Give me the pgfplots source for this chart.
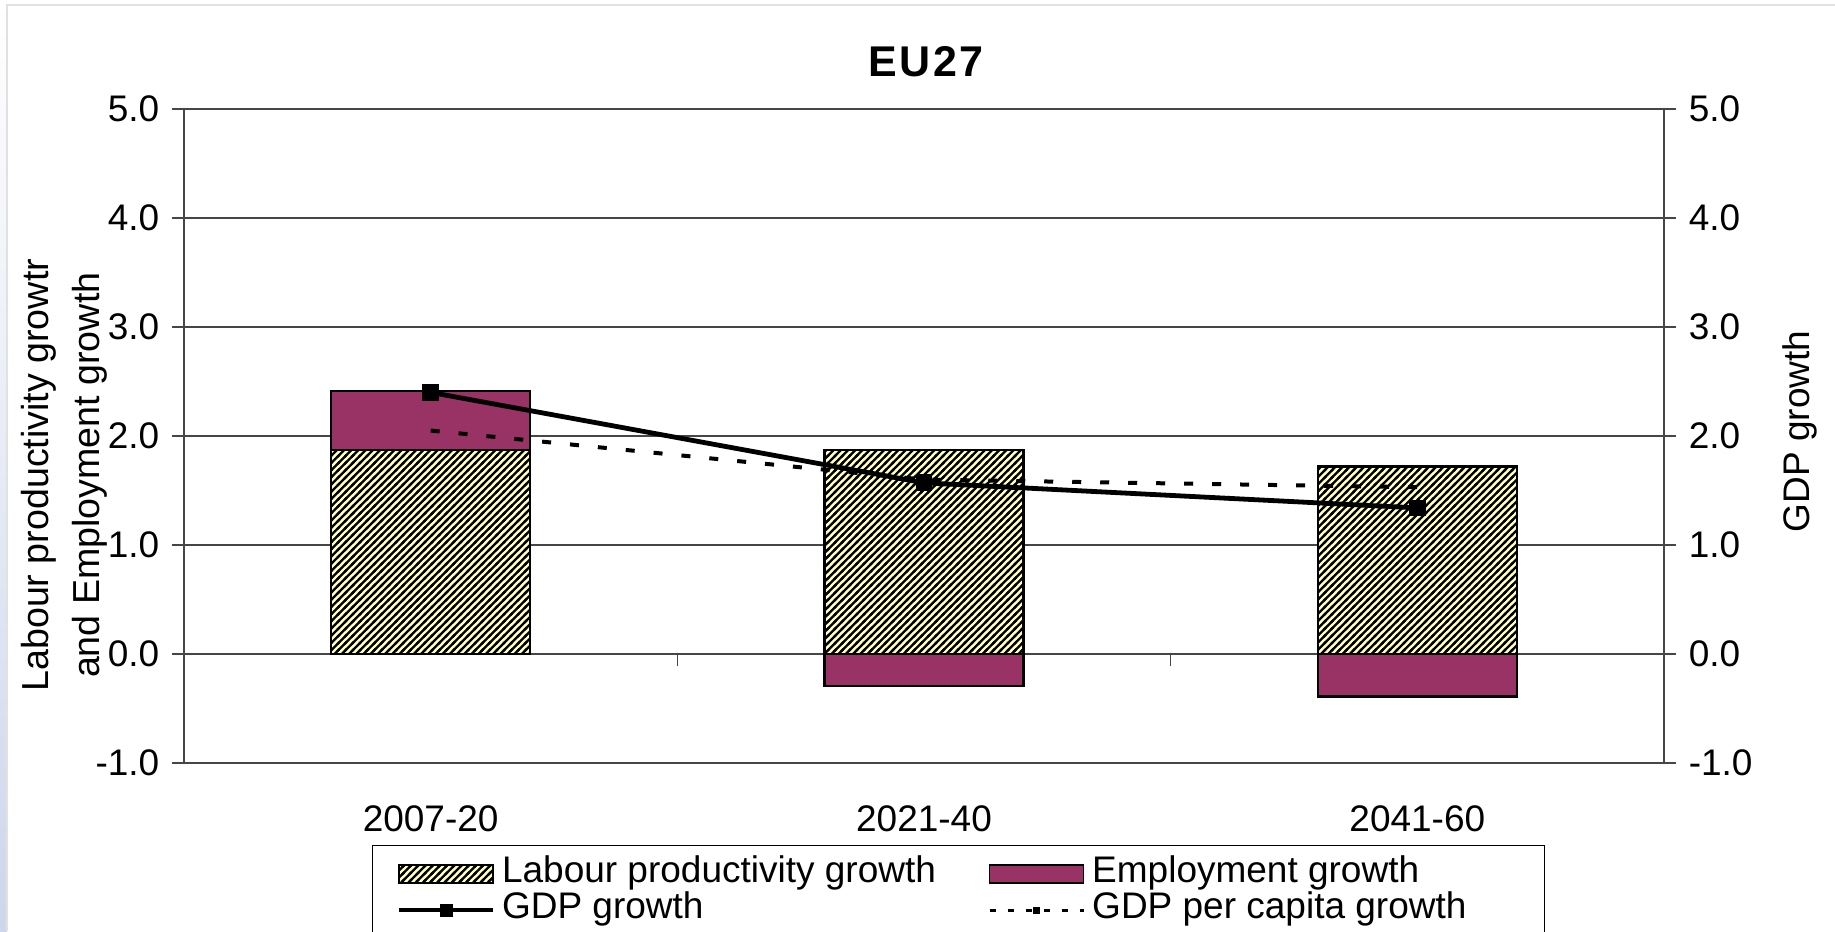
\documentclass[border=0pt]{standalone}
\usepackage{fontspec}
\setmainfont{Liberation Sans}
\usepackage{pgfplots}
\usepackage{pgfplotstable}
\pgfplotsset{compat=1.18}
\usetikzlibrary{patterns}
\definecolor{plum}{RGB}{153,51,102}
\definecolor{cream}{RGB}{255,255,192}
\definecolor{gridc}{RGB}{70,70,70}
\definecolor{stripblue}{RGB}{205,215,235}
\definecolor{framegray}{RGB}{225,225,225}
\pgfdeclarepatternformonly{hatchlines}{\pgfqpoint{-1pt}{-1pt}}{\pgfqpoint{4.6pt}{4.6pt}}{\pgfqpoint{3.6pt}{3.6pt}}{%
  \pgfsetlinewidth{1.15pt}%
  \pgfpathmoveto{\pgfqpoint{-0.6pt}{-0.6pt}}%
  \pgfpathlineto{\pgfqpoint{4.2pt}{4.2pt}}%
  \pgfusepath{stroke}%
}

% x: 0 = 2007-20, 1 = 2021-40, 2 = 2041-60
% emptop: top (or bottom) of the employment segment
\pgfplotstableread{
x lab emp emptop
0 1.87 0.54 2.41
1 1.87 -0.29 -0.29
2 1.72 -0.39 -0.39
}\bardata
\pgfplotstableread{
x gdp gdppc
0 2.40 2.05
1 1.57 1.60
2 1.34 1.53
}\linedata

\begin{document}
\fontsize{18.5}{22}\selectfont
\begin{tikzpicture}[font=\fontsize{18.5}{22}\selectfont]
\useasboundingbox (0,0) rectangle (917.5pt,465.5pt);
\shade[top color=white, bottom color=stripblue] (0,0) rectangle (3.5pt,465.5pt);
\draw[framegray, line width=1pt] (3.5pt,0) -- (3.5pt,463pt) -- (917.5pt,463pt);
\node[font=\bfseries\fontsize{21.5}{25}\selectfont\addfontfeatures{LetterSpace=6}] at (463pt,434.5pt) {EU27};

\begin{axis}[
  at={(92pt,84pt)}, anchor=south west,
  scale only axis, width=740pt, height=327pt,
  xmin=-0.5, xmax=2.5, ymin=-1, ymax=5,
  axis x line*=bottom, axis y line*=left,
  axis line style={gridc, line width=0.8pt},
  xtick={0,1,2}, xticklabels={2007-20,2021-40,2041-60},
  x tick style={draw=none},
  xticklabel style={yshift=-9pt},
  ytick={-1,0,1,2,3,4,5}, yticklabels={-1.0,0.0,1.0,2.0,3.0,4.0,5.0},
  y tick style={gridc, line width=0.8pt},
  tick align=outside, major tick length=6pt,
  ymajorgrids, grid style={gridc, line width=0.8pt},
  every axis y label/.style={at={(axis description cs:0,0.44)}, xshift=-81.5pt, rotate=90, anchor=north, inner sep=0pt, align=center, font=\fontsize{18.8}{25.5}\selectfont},
  ylabel={Labour productivity growtr\\and Employment growth},
  legend columns=2,
  legend cell align=left,
  legend style={
    at={(axis description cs:0.127,-0.1254)}, anchor=north west,
    draw=black, line width=0.7pt, fill=white,
    inner xsep=12pt, inner ysep=5.5pt,
    row sep=0.5pt,
    nodes={inner sep=1pt, text height=12pt, text depth=3.5pt},
    /tikz/every odd column/.append style={column sep=2.5pt},
    /tikz/every even column/.append style={column sep=25pt},
  },
]
\addplot[ybar, bar width=99.5pt, bar shift=0pt, fill=plum, draw=black, line width=1.1pt, forget plot]
  table[x=x, y=emptop]{\bardata};
\addplot[ybar, bar width=99.5pt, bar shift=0pt, draw=none, fill=cream, forget plot]
  table[x=x, y=lab]{\bardata};
\addplot[ybar, bar width=99.5pt, bar shift=0pt, pattern=hatchlines, pattern color=black,
  draw=black, line width=1.1pt, forget plot]
  table[x=x, y=lab]{\bardata};
\draw[gridc, line width=0.8pt] (axis cs:0.5,0) -- ([yshift=-6pt]axis cs:0.5,0);
\draw[gridc, line width=0.8pt] (axis cs:1.5,0) -- ([yshift=-6pt]axis cs:1.5,0);

\addlegendimage{legend image code/.code={
  \fill[cream] (0pt,-4.5pt) rectangle (47pt,4.5pt);
  \fill[pattern=hatchlines, pattern color=black] (0pt,-4.5pt) rectangle (47pt,4.5pt);
  \draw[black, line width=0.8pt] (0pt,-4.5pt) rectangle (47pt,4.5pt);}}
\addlegendentry{Labour productivity growth}
\addlegendimage{legend image code/.code={
  \draw[fill=plum, draw=black, line width=0.8pt] (0pt,-4.5pt) rectangle (47pt,4.5pt);}}
\addlegendentry{Employment growth}
\addlegendimage{legend image code/.code={
  \draw[black, line width=2.2pt] (0pt,0pt) -- (47pt,0pt);
  \fill[black] (21pt,-2.8pt) rectangle (26.6pt,2.8pt);}}
\addlegendentry{GDP growth}
\addlegendimage{legend image code/.code={
  \draw[black, line width=1.6pt, dash pattern=on 3pt off 6pt] (0pt,0pt) -- (47pt,0pt);
  \fill[black] (22pt,-1.5pt) rectangle (25pt,1.5pt);}}
\addlegendentry{GDP per capita growth\rule{26pt}{0pt}}
\end{axis}

\begin{axis}[
  at={(92pt,84pt)}, anchor=south west,
  scale only axis, width=740pt, height=327pt,
  xmin=-0.5, xmax=2.5, ymin=-1, ymax=5,
  axis x line=none, axis y line*=right,
  axis line style={gridc, line width=0.8pt},
  ytick={-1,0,1,2,3,4,5}, yticklabels={-1.0,0.0,1.0,2.0,3.0,4.0,5.0},
  y tick style={gridc, line width=0.8pt},
  tick align=outside, major tick length=6pt,
  every axis y label/.style={at={(axis description cs:1,0.507)}, xshift=59pt, rotate=90, anchor=north, inner sep=0pt},
  ylabel={GDP growth},
]
\addplot[black, line width=2.4pt, mark=square*, mark size=3pt, mark options={solid}]
  table[x=x, y=gdp]{\linedata};
\addplot[black, line width=2pt, dash pattern=on 4.5pt off 9.5pt]
  table[x=x, y=gdppc]{\linedata};
\end{axis}
\end{tikzpicture}
\end{document}
